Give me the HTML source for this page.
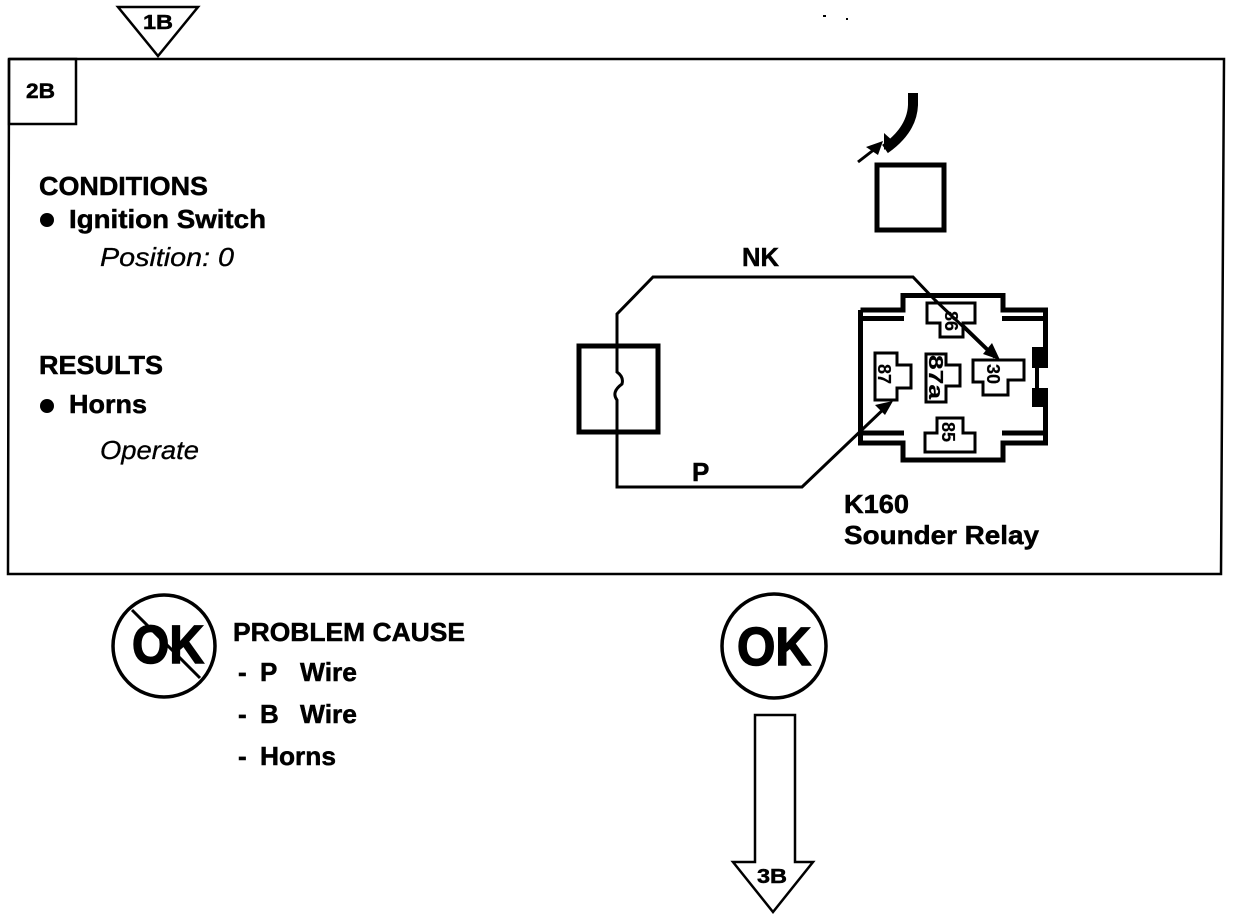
<!DOCTYPE html>
<html><head><meta charset="utf-8"><style>
html,body{margin:0;padding:0;background:#fff}
svg{display:block}
text{font-family:"Liberation Sans",sans-serif;font-weight:bold;fill:#000;stroke:#000;stroke-width:.5}
.i{font-style:italic;font-weight:normal;stroke-width:.3}
.n{font-weight:bold;font-size:18px;stroke-width:.2}
</style></head><body>
<svg width="1248" height="920" viewBox="0 0 1248 920" xmlns="http://www.w3.org/2000/svg">
<g fill="none" stroke="#000">
<polygon points="118,7 198,7 158,56" stroke-width="2.5"/>
<polyline points="9,59 1224,59 1221,574 8,574 9,59" stroke-width="2.5"/>
<rect x="9" y="59" width="67" height="65" stroke-width="2.5"/>
<path d="M913,93 V105 Q912,130 885,149" stroke-width="10"/>
<rect x="877" y="165" width="67" height="65" stroke-width="5"/>
<polyline points="617,348 617,314 653,277 913,277 935,300 995,357" stroke-width="3"/>
<line x1="962" y1="325" x2="995" y2="357" stroke-width="4"/>
<rect x="579" y="346" width="79" height="86" stroke-width="5"/>
<path d="M617,346 V372 Q624,377 622,384 Q611,392 617,400 V487 H802 L889,404" stroke-width="3"/>
<path d="M858,162 L880,145" stroke-width="3"/>
<!-- relay -->
<polyline points="860.5,310 903,310 903,295.5 1003,295.5 1003,310 1045.5,310 1045.5,443 1003,443 1003,460 903,460 903,443 860.5,443 860.5,310" stroke-width="5"/>
<path d="M862,318.5 H904 M1002,318.5 H1043 M862,433 H904 M1002,433 H1043" stroke-width="5"/>
<polygon points="927,303 975,303 975,323 963,323 963,337 940,337 940,323 927,323" stroke-width="3"/>
<polygon points="875,353 897,353 897,365 911,365 911,388 897,388 897,400 875,400" stroke-width="3"/>
<polygon points="926,354 946,354 946,365 960,365 960,386 946,386 946,402 926,402" stroke-width="3"/>
<polygon points="973,360 1024,360 1024,380 1008,380 1008,395 983,395 983,382 973,382" stroke-width="3"/>
<polygon points="937,418 963,418 963,433 975,433 975,452 925,452 925,433 937,433" stroke-width="3"/>
<circle cx="164" cy="646" r="51" stroke-width="3.5"/>
<line x1="132" y1="610" x2="200" y2="678" stroke-width="3"/>
<circle cx="774" cy="646" r="52" stroke-width="3.5"/>
<polygon points="755,715 795,715 795,862 813,862 773,912 733,862 755,862" stroke-width="2.5"/>
</g>
<rect x="1039" y="368" width="10" height="20" fill="#fff"/>
<rect x="1035" y="366" width="4" height="24" fill="#000"/>
<polygon points="1032,347 1048,347 1048,368 1032,368" fill="#000"/>
<polygon points="1032,388 1048,388 1048,407 1032,407" fill="#000"/>
<polygon points="883,141 878,155 866,147" fill="#000"/>
<polygon points="884,133 893,141 884,150" fill="#000"/>
<polygon points="1000,360 983,354 992,343" fill="#000"/>
<polygon points="893,401 885,415 875,405" fill="#000"/>
<circle cx="47" cy="220" r="7" fill="#000"/>
<circle cx="47" cy="406" r="7" fill="#000"/>

<text x="143" y="29" font-size="20" textLength="30" lengthAdjust="spacingAndGlyphs">1B</text>
<text x="26" y="98" font-size="21" textLength="29" lengthAdjust="spacingAndGlyphs">2B</text>
<text x="39" y="195" font-size="26" textLength="169" lengthAdjust="spacingAndGlyphs">CONDITIONS</text>
<text x="69" y="228" font-size="26" textLength="197" lengthAdjust="spacingAndGlyphs">Ignition Switch</text>
<text class="i" x="100" y="266" font-size="26" textLength="134" lengthAdjust="spacingAndGlyphs">Position: 0</text>
<text x="39" y="374" font-size="26" textLength="124" lengthAdjust="spacingAndGlyphs">RESULTS</text>
<text x="69" y="413" font-size="26" textLength="78" lengthAdjust="spacingAndGlyphs">Horns</text>
<text class="i" x="100" y="459" font-size="26" textLength="99" lengthAdjust="spacingAndGlyphs">Operate</text>
<text x="742" y="266" font-size="26" textLength="37" lengthAdjust="spacingAndGlyphs">NK</text>
<text x="692" y="481" font-size="26">P</text>
<text x="844" y="513" font-size="26" textLength="65" lengthAdjust="spacingAndGlyphs">K160</text>
<text x="844" y="544" font-size="26" textLength="195" lengthAdjust="spacingAndGlyphs">Sounder Relay</text>
<text x="132" y="663" font-size="54" textLength="72" lengthAdjust="spacingAndGlyphs" style="stroke-width:1.5">OK</text>
<text x="737" y="665" font-size="54" textLength="74" lengthAdjust="spacingAndGlyphs" style="stroke-width:1.5">OK</text>
<text x="233" y="641" font-size="26" textLength="232" lengthAdjust="spacingAndGlyphs">PROBLEM CAUSE</text>
<text x="238" y="681" font-size="26">-</text><text x="260" y="681" font-size="26">P</text><text x="300" y="681" font-size="26" textLength="57" lengthAdjust="spacingAndGlyphs">Wire</text>
<text x="238" y="723" font-size="26">-</text><text x="260" y="723" font-size="26">B</text><text x="300" y="723" font-size="26" textLength="57" lengthAdjust="spacingAndGlyphs">Wire</text>
<text x="238" y="765" font-size="26">-</text><text x="260" y="765" font-size="26" textLength="76" lengthAdjust="spacingAndGlyphs">Horns</text>
<text x="757" y="883" font-size="20" textLength="30" lengthAdjust="spacingAndGlyphs">3B</text>
<text class="n" transform="translate(945,311) rotate(90)">86</text>
<text class="n" transform="translate(878,364) rotate(90)">87</text>
<text class="n" transform="translate(929,355) rotate(90)" textLength="44" lengthAdjust="spacingAndGlyphs" style="font-size:20px">87a</text>
<text class="n" transform="translate(987,364) rotate(90)">30</text>
<text class="n" transform="translate(942,422) rotate(90)">85</text>
<rect x="823" y="15" width="3" height="2" fill="#000"/><rect x="846" y="18" width="2" height="2" fill="#000"/>
</svg>
</body></html>
